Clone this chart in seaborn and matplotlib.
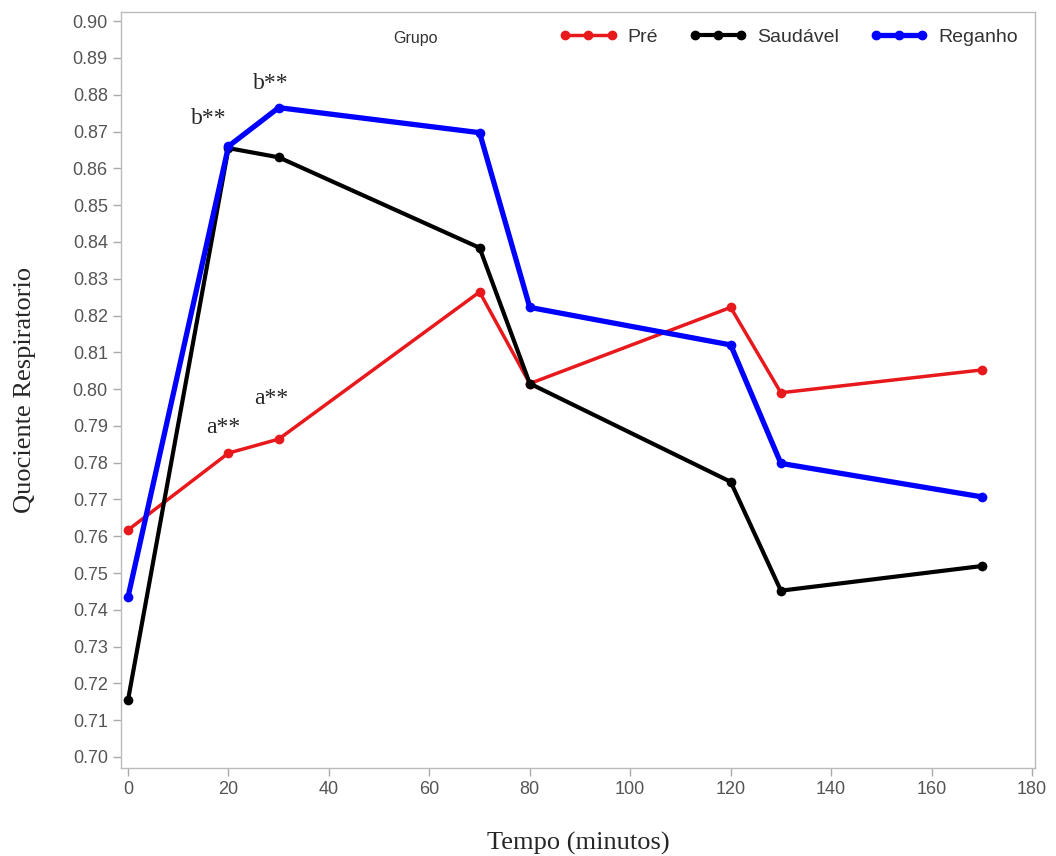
import pandas as pd
import matplotlib.pyplot as plt
import seaborn as sns

# dados
tempo = [0, 20, 30, 70, 80, 120, 130, 170]
pre = [0.7617, 0.7826, 0.7864, 0.8264, 0.8015, 0.8222, 0.7990, 0.8052]
saudavel = [0.7155, 0.8655, 0.8630, 0.8384, 0.8015, 0.7748, 0.7452, 0.7519]
reganho = [0.7435, 0.8660, 0.8765, 0.8697, 0.8222, 0.8120, 0.7798, 0.7707]
grupos = ['Pré', 'Saudável', 'Reganho']
cores = ['#e8191c', '#000000', '#0000ff']
larguras = [2.5, 3.0, 3.8]
anotacoes = [('b**', 16, 0.8735), ('b**', 28.5, 0.883), ('a**', 19, 0.7895), ('a**', 28.5, 0.7975)]

df = pd.DataFrame({
    'Tempo': tempo * 3,
    'QR': pre + saudavel + reganho,
    'Grupo': [g for g in grupos for _ in tempo],
})

sns.set_style('white')
plt.rcParams['font.family'] = ['Liberation Sans', 'DejaVu Sans']

fig = plt.figure(figsize=(10.56, 8.56), dpi=100)
ax = fig.add_axes([121 / 1056, 1 - 768 / 856, 914 / 1056, 756 / 856])

sns.lineplot(data=df, x='Tempo', y='QR', hue='Grupo', hue_order=grupos,
             palette=cores, marker='o', markersize=7, markeredgewidth=0,
             legend=False, ax=ax)
for ln, lw in zip(ax.lines, larguras):
    ln.set_linewidth(lw)

ax.set_xlim(-1.4, 180.6)
ax.set_ylim(0.697, 0.9025)
ax.set_xticks(range(0, 181, 20))
ax.set_yticks([0.70 + i * 0.01 for i in range(21)])
ax.set_yticklabels([f'{0.70 + i * 0.01:.2f}' for i in range(21)])
ax.tick_params(axis='both', colors='#555555', labelsize=13, length=6,
               width=1, direction='out', left=True, bottom=True)
ax.tick_params(axis='both', color='#aaaaaa')
for s in ax.spines.values():
    s.set_color('#bbbbbb')
    s.set_linewidth(1)

ax.set_xlabel('Tempo (minutos)', family='Liberation Serif', fontsize=19, labelpad=24)
ax.set_ylabel('Quociente Respiratorio', family='Liberation Serif', fontsize=19, labelpad=26)

for txt, x, y in anotacoes:
    ax.text(x, y, txt, family='Liberation Serif', fontsize=17, ha='center', va='center')

# legenda
handles = [plt.Line2D([], [], color=c, lw=lw, marker='o', markersize=6) for c, lw in zip(cores, larguras)]
ax.legend(handles, grupos, ncol=3, loc='upper right', bbox_to_anchor=(1.0, 1.002),
          frameon=False, fontsize=14, handlelength=3.0, columnspacing=1.6,
          handletextpad=0.5, labelcolor='#333333', numpoints=3)
ax.text(0.322, 0.965, 'Grupo', transform=ax.transAxes, fontsize=11.5,
        color='#333333', va='center', ha='center')

fig.savefig('out.png', dpi=100)
